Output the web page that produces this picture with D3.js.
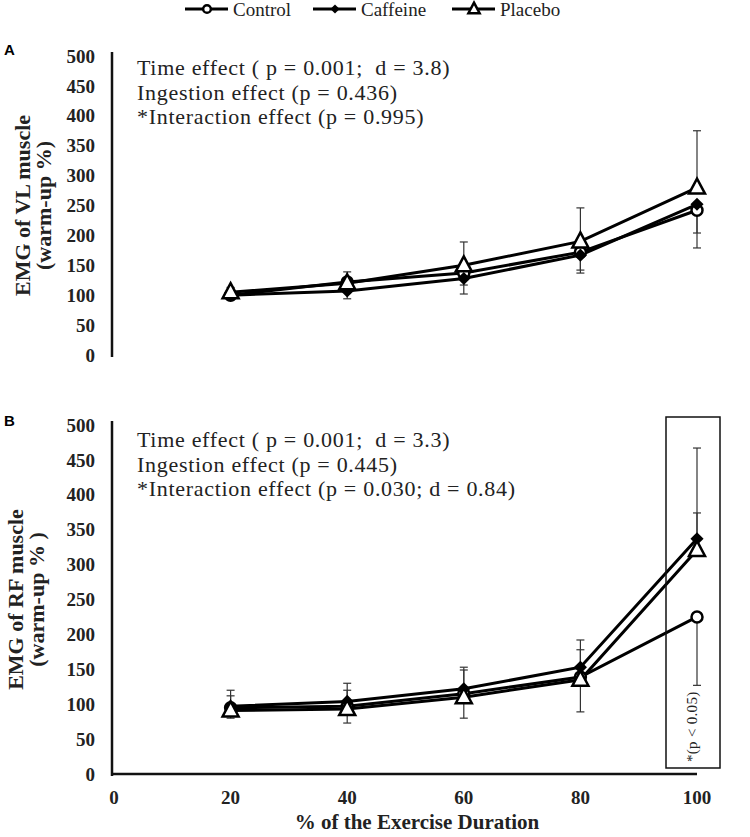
<!DOCTYPE html>
<html lang="en">
<head>
<meta charset="UTF-8">
<title>EMG of VL and RF muscle</title>
<script src="https://d3js.org/d3.v7.min.js"></script>
<style>
    body { margin: 0; background: #fff; }
    svg { display: block; }
    .serif { font-family: "Liberation Serif", "Times New Roman", serif; white-space: pre; }
</style>
</head>
<body>
<svg id="chart" width="750" height="837"></svg>
<script>
// % of exercise duration
var durations = [20, 40, 60, 80, 100];
var xTicks = [0, 20, 40, 60, 80, 100];
var yTicks = [0, 50, 100, 150, 200, 250, 300, 350, 400, 450, 500];
var seriesNames = ["Control", "Caffeine", "Placebo"];

// panel A: VL muscle (mean, one-sided SD)
var vlControl = [100, 122, 137, 172, 242];
var vlCaffeine = [100, 107, 128, 167, 252];
var vlPlacebo = [105, 120, 150, 190, 280];
var vlControlSd = [6, 10, 20, 30, 63];    // drawn downward
var vlCaffeineSd = [8, 13, 26, 30, 48];   // drawn downward
var vlPlaceboSd = [8, 19, 39, 56, 95];    // drawn upward

// panel B: RF muscle
var rfControl = [95, 97, 115, 139, 225];
var rfCaffeine = [97, 104, 122, 153, 337];
var rfPlacebo = [91, 93, 110, 135, 321];
var rfControlSd = [15, 24, 35, 50, 98];   // downward
var rfCaffeineSd = [23, 26, 31, 39, 37];  // upward
var rfPlaceboSd = [21, 27, 39, 43, 146];  // upward

var statsA = ["Time effect ( p = 0.001;  d = 3.8)", "Ingestion effect (p = 0.436)", "*Interaction effect (p = 0.995)"];
var statsB = ["Time effect ( p = 0.001;  d = 3.3)", "Ingestion effect (p = 0.445)", "*Interaction effect (p = 0.030; d = 0.84)"];

var svg = d3.select("#chart");

var x = d3.scaleLinear().domain([0, 100]).range([114, 697]);

function drawPanel(opts) {
    var y = d3.scaleLinear().domain([0, 500]).range([opts.y0, opts.y500]);
    var g = svg.append("g");

    // y axis
    g.append("line")
        .attr("x1", 112).attr("x2", 112)
        .attr("y1", opts.y500 - 4).attr("y2", opts.y0 + 2)
        .attr("stroke", "#111").attr("stroke-width", 2.5);

    g.selectAll(".ytick").data(yTicks).enter().append("text")
        .attr("class", "serif")
        .attr("x", 95).attr("y", function(d) { return y(d); })
        .attr("dy", "0.35em")
        .attr("text-anchor", "end")
        .attr("font-size", 19).attr("font-weight", "bold").attr("fill", "#222")
        .text(function(d) { return d; });

    // y title (two lines)
    var title = g.append("text")
        .attr("class", "serif")
        .attr("transform", "translate(" + opts.titleX + "," + ((opts.y0 + opts.y500) / 2) + ") rotate(-90)")
        .attr("text-anchor", "middle")
        .attr("font-size", 22).attr("font-weight", "bold").attr("fill", "#222");
    title.append("tspan").attr("x", 0).attr("dy", 0).text(opts.title1);
    title.append("tspan").attr("x", 0).attr("dy", 21).text(opts.title2);

    // panel letter
    g.append("text")
        .attr("x", 4).attr("y", opts.letterY)
        .attr("font-family", "Liberation Sans, Arial, sans-serif")
        .attr("font-size", 15).attr("font-weight", "bold")
        .text(opts.letter);

    // stats text
    g.selectAll(".stat").data(opts.stats).enter().append("text")
        .attr("class", "serif")
        .attr("x", 137).attr("y", function(d, i) { return opts.statY + i * 24.5; })
        .attr("font-size", 22).attr("letter-spacing", 0.7).attr("fill", "#222")
        .text(function(d) { return d; });

    var series = [
        { name: "Control", values: opts.control, sd: opts.controlSd, dir: opts.controlDir },
        { name: "Caffeine", values: opts.caffeine, sd: opts.caffeineSd, dir: opts.caffeineDir },
        { name: "Placebo", values: opts.placebo, sd: opts.placeboSd, dir: opts.placeboDir }
    ];

    // error bars
    series.forEach(function(s) {
        var eb = g.append("g").attr("stroke", "#333").attr("stroke-width", 1.2);
        durations.forEach(function(d, i) {
            var v = s.values[i], e = v + s.dir * s.sd[i];
            eb.append("line")
                .attr("x1", x(d)).attr("x2", x(d))
                .attr("y1", y(v)).attr("y2", y(e));
            eb.append("line")
                .attr("x1", x(d) - 4).attr("x2", x(d) + 4)
                .attr("y1", y(e)).attr("y2", y(e));
        });
    });

    var line = d3.line()
        .x(function(d) { return x(d[0]); })
        .y(function(d) { return y(d[1]); });

    series.forEach(function(s) {
        g.append("path")
            .datum(durations.map(function(d, i) { return [d, s.values[i]]; }))
            .attr("fill", "none").attr("stroke", "#000").attr("stroke-width", 3)
            .attr("d", line);
    });

    series.forEach(function(s) {
        durations.forEach(function(d, i) {
            drawMarker(g, s.name, x(d), y(s.values[i]), 1);
        });
    });

    return { g: g, y: y };
}

function drawMarker(g, name, cx, cy, k) {
    if (name === "Control") {
        g.append("circle").attr("cx", cx).attr("cy", cy).attr("r", 5.5 * k)
            .attr("fill", "#fff").attr("stroke", "#000").attr("stroke-width", 2.5);
    } else if (name === "Caffeine") {
        g.append("path")
            .attr("d", d3.symbol().type(d3.symbolDiamond2).size(110 * k * k)())
            .attr("transform", "translate(" + cx + "," + cy + ")")
            .attr("fill", "#000");
    } else {
        g.append("path")
            .attr("d", "M0,-9L8,6L-8,6Z")
            .attr("transform", "translate(" + cx + "," + cy + ") scale(" + k + ")")
            .attr("fill", "#fff").attr("stroke", "#000").attr("stroke-width", 2.5 / k)
            .attr("stroke-linejoin", "miter");
    }
}

drawPanel({
    letter: "A", letterY: 55, y0: 355, y500: 56, titleX: 30,
    title1: "EMG of VL muscle", title2: "(warm-up %)",
    stats: statsA, statY: 75,
    control: vlControl, controlSd: vlControlSd, controlDir: -1,
    caffeine: vlCaffeine, caffeineSd: vlCaffeineSd, caffeineDir: -1,
    placebo: vlPlacebo, placeboSd: vlPlaceboSd, placeboDir: 1
});

drawPanel({
    letter: "B", letterY: 426, y0: 774, y500: 425, titleX: 23,
    title1: "EMG of RF muscle", title2: "(warm-up % )",
    stats: statsB, statY: 447,
    control: rfControl, controlSd: rfControlSd, controlDir: -1,
    caffeine: rfCaffeine, caffeineSd: rfCaffeineSd, caffeineDir: 1,
    placebo: rfPlacebo, placeboSd: rfPlaceboSd, placeboDir: 1
});

// x axis for panel B
svg.append("line")
    .attr("x1", 111).attr("x2", x(100))
    .attr("y1", 774).attr("y2", 774)
    .attr("stroke", "#111").attr("stroke-width", 2.5);

svg.selectAll(".xtick").data(xTicks).enter().append("text")
    .attr("class", "serif")
    .attr("x", function(d) { return x(d); }).attr("y", 804)
    .attr("text-anchor", "middle")
    .attr("font-size", 19).attr("font-weight", "bold").attr("fill", "#222")
    .text(function(d) { return d; });

svg.append("text")
    .attr("class", "serif")
    .attr("x", 417).attr("y", 829)
    .attr("text-anchor", "middle")
    .attr("font-size", 21).attr("font-weight", "bold").attr("fill", "#222")
    .text("% of the Exercise Duration");

// significance box at 100%
svg.append("rect")
    .attr("x", 666).attr("y", 417).attr("width", 54).attr("height", 351)
    .attr("fill", "none").attr("stroke", "#111").attr("stroke-width", 1.5);

svg.append("text")
    .attr("class", "serif")
    .attr("transform", "translate(697,762) rotate(-90)")
    .attr("font-size", 15).attr("letter-spacing", 0.3).attr("fill", "#222")
    .text("*(p < 0.05)");

// legend
var legendX = [185, 313, 452];
var legend = svg.append("g");
seriesNames.forEach(function(name, i) {
    var lx = legendX[i];
    legend.append("line")
        .attr("x1", lx).attr("x2", lx + 43)
        .attr("y1", 9).attr("y2", 9)
        .attr("stroke", "#000").attr("stroke-width", 3);
    drawMarker(legend, name, lx + 22, 9, 0.7);
    legend.append("text")
        .attr("class", "serif")
        .attr("x", lx + 48).attr("y", 9).attr("dy", "0.35em")
        .attr("font-size", 19).attr("fill", "#222")
        .text(name);
});
</script>
</body>
</html>
